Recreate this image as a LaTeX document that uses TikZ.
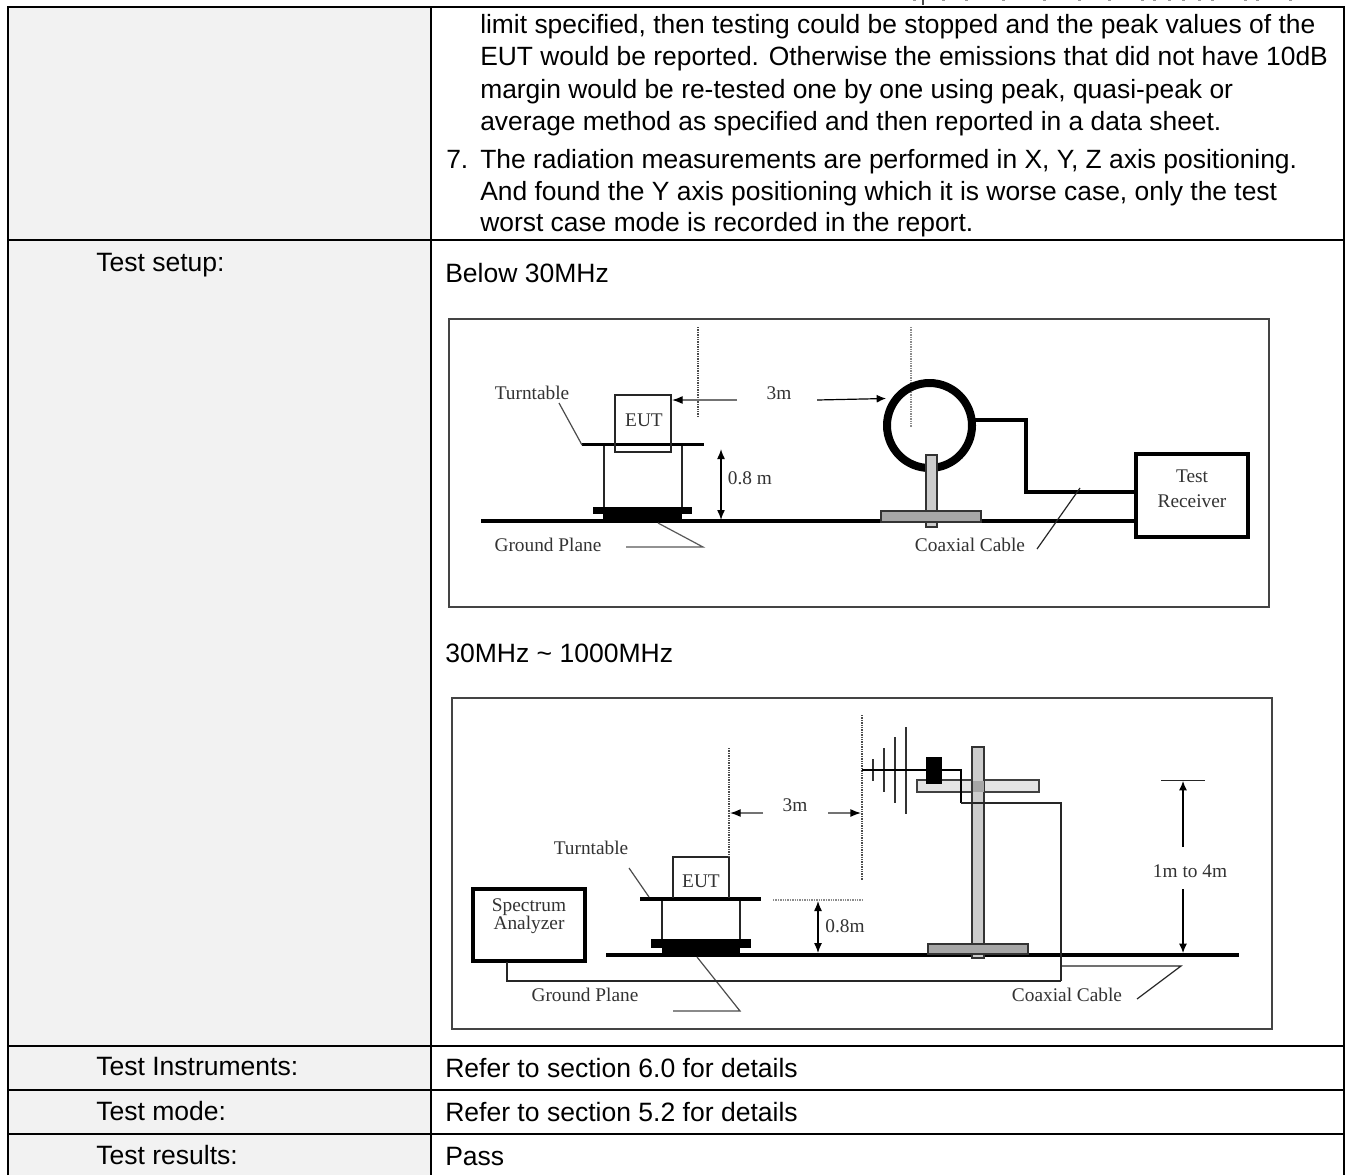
\documentclass[tikz,border=0pt]{standalone}
\usepackage{fontspec}
\setmainfont{Liberation Sans}
\newfontfamily\serifdg{Liberation Serif}
\usetikzlibrary{arrows.meta}
\definecolor{cellgray}{HTML}{F2F2F2}
\definecolor{poleA}{HTML}{CCCCCC}
\definecolor{poleB}{HTML}{A6A6A6}
\definecolor{armC}{HTML}{E4E4E4}
\definecolor{frameC}{HTML}{444444}
\tikzset{
  x=0.75pt,y=-0.75pt,
  grid/.style={line width=1.6pt,black},
  celltext/.style={inner sep=0,anchor=base west,font=\fontsize{19.9}{22}\selectfont,text=black},
  paratext/.style={inner sep=0,anchor=base west,font=\fontsize{19.8}{22}\selectfont,text=black},
  dg/.style={inner sep=0,font=\serifdg\fontsize{14.5}{16}\selectfont,text=black!80,align=center},
  frameb/.style={draw=frameC,line width=0.9pt},
  thin1/.style={line width=0.9pt,black!85},
  dots/.style={line width=0.9pt,black!70,dash pattern=on 1pt off 0.8pt},
  dotsg/.style={line width=0.9pt,black!45,dash pattern=on 1pt off 0.8pt},
  arr/.style={-{Latex[length=7pt,width=6pt,black]},line width=0.9pt,black},
  arrg/.style={-{Latex[length=8pt,width=6pt,black]},line width=1pt,black!55},
  dbl/.style={{Latex[length=7.5pt,width=6pt]}-{Latex[length=7.5pt,width=6pt]},line width=1.1pt,black},
  frag/.style={line width=1pt,black!40},
}
\newcommand{\celltxt}[3]{\node[celltext] at (#1,#2) {#3};}
\newcommand{\paratxt}[3]{\node[paratext] at (#1,#2) {#3};}
\begin{document}
\begin{tikzpicture}
\useasboundingbox (0,0) rectangle (1351,1175);
\fill[white] (0,0) rectangle (1351,1175);
% left column
\fill[cellgray] (8,7) rectangle (431,1175);
% remains of the cut-off line above the table
\foreach \xx in {913,942,965,1002,1043,1078,1108,1141,1153,1168,1182,1198,1211,1244,1256,1289} \draw[frag] (\xx,0) -- (\xx+3,0);
\draw[line width=1.2pt,black!70] (923,0) -- (923,5);
% text of the procedure cell
\paratxt{480}{33}{limit specified, then testing could be stopped and the peak values of the}
\paratxt{480}{65}{EUT would be reported. Otherwise the emissions that did not have 10dB}
\paratxt{480}{98}{margin would be re-tested one by one using peak, quasi-peak or}
\paratxt{480}{130}{average method as specified and then reported in a data sheet.}
\paratxt{446}{168}{7.}
\paratxt{480}{168}{The radiation measurements are performed in X, Y, Z axis positioning.}
\paratxt{480}{200}{And found the Y axis positioning which it is worse case, only the test}
\paratxt{480}{231}{worst case mode is recorded in the report.}
\celltxt{96}{271}{Test setup:}
\celltxt{445}{282}{Below 30MHz}
\celltxt{445}{662}{30MHz \textasciitilde\ 1000MHz}
\celltxt{96}{1075}{Test Instruments:}
\celltxt{445}{1077}{Refer to section 6.0 for details}
\celltxt{96}{1120}{Test mode:}
\celltxt{445}{1121}{Refer to section 5.2 for details}
\celltxt{96}{1164}{Test results:}
\celltxt{445}{1165}{Pass}
% grid
\draw[grid] (8,1175) -- (8,7) -- (1344,7) -- (1344,1175);
\draw[grid] (431,7) -- (431,1175);
\foreach \yy in {240,1046,1090,1134} \draw[grid] (8,\yy) -- (1344,\yy);
%%% Figure 1
\draw[frameb] (449,319) rectangle (1269,607);
\node[dg] (tt1) at (532,393) {Turntable};
\node[dg] (eut1) at (644,420) {EUT};
\node[dg] (m31) at (779,393) {3m};
\node[dg] (h1) at (750,478) {0.8 m};
\node[dg] (gp1) at (548,545) {Ground Plane};
\node[dg] (cc1) at (970,545) {Coaxial Cable};
% ground + base
\draw[line width=3pt,black] (481,520.5) -- (1135,520.5);
\fill[black] (593,507) rectangle (692,514);
\fill[black] (603,507) rectangle (682,522);
% legs and top
\draw[thin1] (604,445) -- (604,507) (682,445) -- (682,507);
\draw[line width=2pt,black] (582,444.5) -- (704,444.5);
\draw[thin1] (615,395) rectangle (671,452);
\draw[thin1,black!70] (559,403) -- (582,445);
% dotted
\draw[dots] (698,327) -- (698,417);
\draw[dotsg] (911,327) -- (911,427);
% 3m arrows
\draw[arrg] (737,400) -- (672,400);
\draw[arr] (817,400) -- (886,398.5);
% 0.8m
\draw[dbl] (721,449) -- (721,520);
% ground leader
\draw[thin1,black!65] (658,523) -- (703,547) -- (626,547);
% loop
\draw[line width=6pt,black] (929.5,425.5) circle (42.5);
% pole and base
\draw[line width=0.8pt,black!80,fill=poleA] (926,455) rectangle (937,527);
\draw[line width=0.8pt,black!80,fill=poleB] (881,511) rectangle (981,522);
% cable
\draw[line width=3.2pt,black,line join=miter] (974,420) -- (1026,420) -- (1026,492) -- (1136,492);
\draw[thin1] (1080,488) -- (1037,549);
% receiver
\draw[line width=2.8pt,black,fill=white] (1136,454) rectangle (1248,537);
\node[dg] (tr1) at (1192,489) {Test\\[3pt]Receiver};
%%% Figure 2
\draw[frameb] (452,698) rectangle (1272,1029);
\node[dg] (tt2) at (591,848) {Turntable};
\node[dg] (eut2) at (701,881) {EUT};
\node[dg] (m32) at (795,805) {3m};
\node[dg] (h2) at (845,926) {0.8m};
\node[dg] (sa2) at (529,916) {Spectrum\\[-3pt]Analyzer};
\node[dg] (gp2) at (585,995) {Ground Plane};
\node[dg] (cc2) at (1067,995) {Coaxial Cable};
\node[dg] (hh2) at (1190,871) {1m to 4m};
% ground
\draw[line width=3pt,black] (606,954.5) -- (1239,954.5);
\fill[black] (651,939) rectangle (751,948);
\fill[black] (662,939) rectangle (740,956);
\draw[thin1] (662,899) -- (662,939) (740,899) -- (740,939);
\draw[line width=2.4pt,black] (640,899) -- (761,899);
\draw[thin1] (673,898) -- (673,857) -- (729,857) -- (729,898);
\draw[thin1,black!70] (629,868) -- (649,897);
% dotted
\draw[dots] (729,748) -- (729,857);
\draw[dots] (862,715) -- (862,880);
\draw[dotsg] (773,900) -- (862,900);
% 3m arrows
\draw[arrg] (763,813) -- (730,813);
\draw[arrg] (828,813) -- (861,813);
% 0.8m
\draw[dbl,line width=0.9pt] (818,901) -- (818,953);
% ground leader
\draw[thin1,black!70] (697,957) -- (740,1011) -- (673,1011);
% analyser
\draw[line width=2.4pt,black] (473,889) rectangle (585,961);
\draw[line width=1.6pt,black!85] (507,962) -- (507,981) -- (1061,981);
% mast
\draw[line width=0.9pt,black!75,fill=armC] (917,780) rectangle (1039,792);
\draw[line width=0.8pt,black!80,fill=poleA] (972,747) rectangle (984,958);
\fill[poleB] (972.5,780.5) rectangle (983.5,791.5);
\draw[line width=0.8pt,black!80,fill=poleB] (928,944) rectangle (1028,954);
% antenna
\draw[line width=1.1pt,black!80] (873,759) -- (873,781);
\draw[line width=1.1pt,black!80] (884,748) -- (884,792);
\draw[line width=1.1pt,black!80] (895,737) -- (895,803);
\draw[line width=1.1pt,black!80] (906,727) -- (906,814);
\draw[line width=2pt,black] (862,770) -- (961,770) -- (961,803);
\fill[black] (926,757) rectangle (942,784);
\draw[line width=1.4pt,black!85] (961,803) -- (1061,803) -- (1061,981);
% right dimension
\draw[thin1] (1161,780.5) -- (1205,780.5);
\draw[arr] (1183,847) -- (1183,781);
\draw[arr] (1183,889) -- (1183,953);
% coax leader
\draw[thin1] (1062,966) -- (1181,966) -- (1137,999);
\end{tikzpicture}
\end{document}
